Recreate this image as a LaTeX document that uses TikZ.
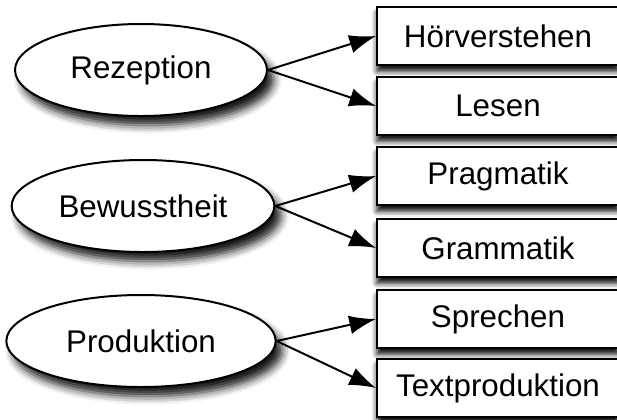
\documentclass[tikz,border=0pt]{standalone}
\usepackage{fontspec}
\setmainfont{Liberation Sans}
\usetikzlibrary{shapes.geometric,shadows.blur,arrows.meta}

\begin{document}
\begin{tikzpicture}[x=.75pt,y=-.75pt,line width=1.5pt,
    font=\fontsize{23.5}{27}\selectfont,
    area/.style={ellipse,draw,fill=white,minimum height=69pt,inner sep=0pt,
        blur shadow={shadow xshift=5pt,shadow yshift=-7pt,
            shadow blur radius=6pt,shadow opacity=90}},
    skill/.style={rectangle,draw,fill=white,minimum width=181.5pt,
        minimum height=44pt,inner sep=0pt,
        blur shadow={shadow xshift=0pt,shadow yshift=-4.5pt,
            shadow blur radius=4pt,shadow opacity=95}},
    tip/.style={-{Latex[length=20pt,width=14pt]}}]
\useasboundingbox (0,0) rectangle (617,419);

\node (rez) [area,minimum width=189pt] at (141,70) {Rezeption};
\node (bew) [area,minimum width=197pt] at (143,206) {Bewusstheit};
\node (pro) [area,minimum width=202pt] at (141,341) {Produktion};

\node (hoer) [skill] at (498,36) {Hörverstehen};
\node (les) [skill] at (498,106) {Lesen};
\node (prag) [skill] at (498,176) {Pragmatik};
\node (gram) [skill] at (498,248) {Grammatik};
\node (spr) [skill] at (498,319) {Sprechen};
\node (txt) [skill] at (498,388) {Textproduktion};

\draw[tip] (rez.east) -- (hoer.west);
\draw[tip] (rez.east) -- (les.west);
\draw[tip] (bew.east) -- (prag.west);
\draw[tip] (bew.east) -- (gram.west);
\draw[tip] (pro.east) -- (spr.west);
\draw[tip] (pro.east) -- (txt.west);

\end{tikzpicture}
\end{document}
